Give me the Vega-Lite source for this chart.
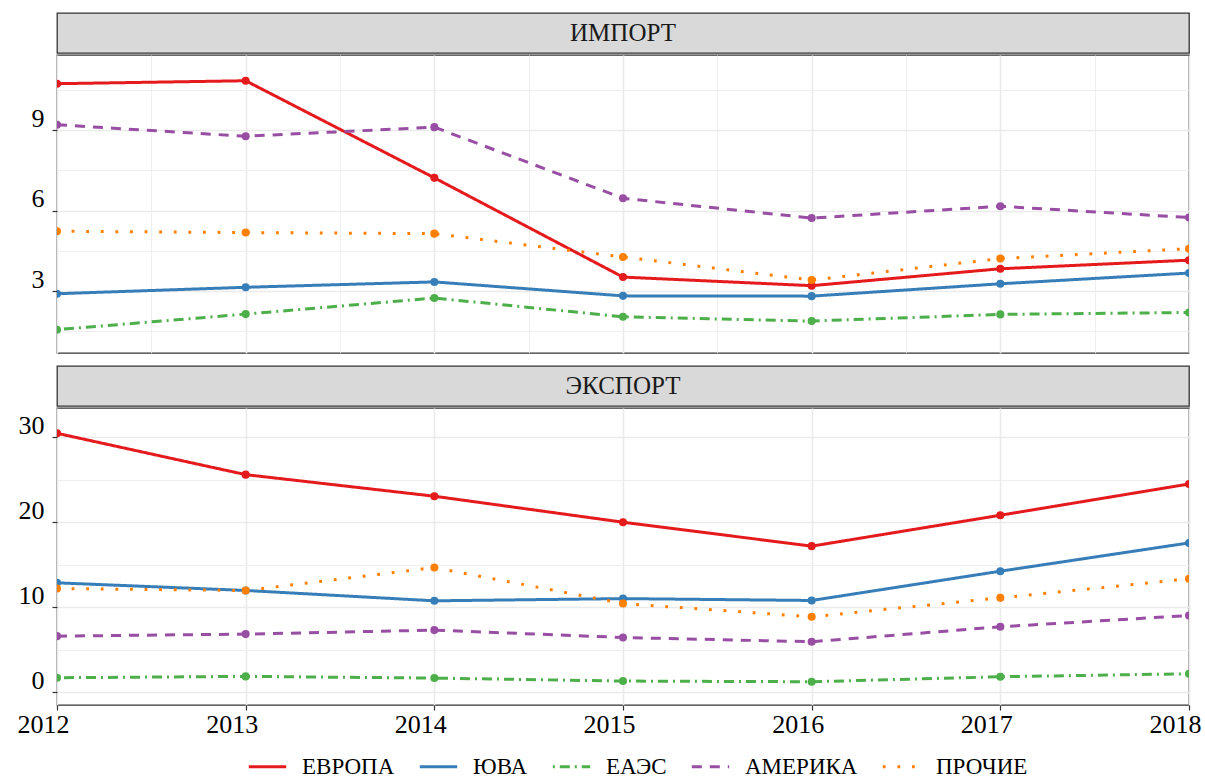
{
  "$schema": "https://vega.github.io/schema/vega-lite/v6.json",
  "padding": {"left": 5, "top": 12, "right": 5, "bottom": 2},
  "background": "white",
  "datasets": {
    "strips": [{"panel": "ИМПОРТ"}, {"panel": "ЭКСПОРТ"}],
    "series": [
      {"panel": "ИМПОРТ", "region": "ЕВРОПА", "year": 2012, "value": 10.73},
      {"panel": "ИМПОРТ", "region": "ЕВРОПА", "year": 2013, "value": 10.84},
      {"panel": "ИМПОРТ", "region": "ЕВРОПА", "year": 2014, "value": 7.22},
      {"panel": "ИМПОРТ", "region": "ЕВРОПА", "year": 2015, "value": 3.52},
      {"panel": "ИМПОРТ", "region": "ЕВРОПА", "year": 2016, "value": 3.2},
      {"panel": "ИМПОРТ", "region": "ЕВРОПА", "year": 2017, "value": 3.83},
      {"panel": "ИМПОРТ", "region": "ЕВРОПА", "year": 2018, "value": 4.15},
      {"panel": "ИМПОРТ", "region": "ЮВА", "year": 2012, "value": 2.9},
      {"panel": "ИМПОРТ", "region": "ЮВА", "year": 2013, "value": 3.14},
      {"panel": "ИМПОРТ", "region": "ЮВА", "year": 2014, "value": 3.34},
      {"panel": "ИМПОРТ", "region": "ЮВА", "year": 2015, "value": 2.82},
      {"panel": "ИМПОРТ", "region": "ЮВА", "year": 2016, "value": 2.81},
      {"panel": "ИМПОРТ", "region": "ЮВА", "year": 2017, "value": 3.27},
      {"panel": "ИМПОРТ", "region": "ЮВА", "year": 2018, "value": 3.67},
      {"panel": "ИМПОРТ", "region": "ЕАЭС", "year": 2012, "value": 1.56},
      {"panel": "ИМПОРТ", "region": "ЕАЭС", "year": 2013, "value": 2.14},
      {"panel": "ИМПОРТ", "region": "ЕАЭС", "year": 2014, "value": 2.74},
      {"panel": "ИМПОРТ", "region": "ЕАЭС", "year": 2015, "value": 2.04},
      {"panel": "ИМПОРТ", "region": "ЕАЭС", "year": 2016, "value": 1.88},
      {"panel": "ИМПОРТ", "region": "ЕАЭС", "year": 2017, "value": 2.13},
      {"panel": "ИМПОРТ", "region": "ЕАЭС", "year": 2018, "value": 2.2},
      {"panel": "ИМПОРТ", "region": "АМЕРИКА", "year": 2012, "value": 9.2},
      {"panel": "ИМПОРТ", "region": "АМЕРИКА", "year": 2013, "value": 8.77},
      {"panel": "ИМПОРТ", "region": "АМЕРИКА", "year": 2014, "value": 9.11},
      {"panel": "ИМПОРТ", "region": "АМЕРИКА", "year": 2015, "value": 6.46},
      {"panel": "ИМПОРТ", "region": "АМЕРИКА", "year": 2016, "value": 5.72},
      {"panel": "ИМПОРТ", "region": "АМЕРИКА", "year": 2017, "value": 6.16},
      {"panel": "ИМПОРТ", "region": "АМЕРИКА", "year": 2018, "value": 5.74},
      {"panel": "ИМПОРТ", "region": "ПРОЧИЕ", "year": 2012, "value": 5.23},
      {"panel": "ИМПОРТ", "region": "ПРОЧИЕ", "year": 2013, "value": 5.18},
      {"panel": "ИМПОРТ", "region": "ПРОЧИЕ", "year": 2014, "value": 5.14},
      {"panel": "ИМПОРТ", "region": "ПРОЧИЕ", "year": 2015, "value": 4.27},
      {"panel": "ИМПОРТ", "region": "ПРОЧИЕ", "year": 2016, "value": 3.41},
      {"panel": "ИМПОРТ", "region": "ПРОЧИЕ", "year": 2017, "value": 4.21},
      {"panel": "ИМПОРТ", "region": "ПРОЧИЕ", "year": 2018, "value": 4.58},
      {"panel": "ЭКСПОРТ", "region": "ЕВРОПА", "year": 2012, "value": 30.47},
      {"panel": "ЭКСПОРТ", "region": "ЕВРОПА", "year": 2013, "value": 25.6},
      {"panel": "ЭКСПОРТ", "region": "ЕВРОПА", "year": 2014, "value": 23.06},
      {"panel": "ЭКСПОРТ", "region": "ЕВРОПА", "year": 2015, "value": 20.0},
      {"panel": "ЭКСПОРТ", "region": "ЕВРОПА", "year": 2016, "value": 17.18},
      {"panel": "ЭКСПОРТ", "region": "ЕВРОПА", "year": 2017, "value": 20.82},
      {"panel": "ЭКСПОРТ", "region": "ЕВРОПА", "year": 2018, "value": 24.5},
      {"panel": "ЭКСПОРТ", "region": "ЮВА", "year": 2012, "value": 12.86},
      {"panel": "ЭКСПОРТ", "region": "ЮВА", "year": 2013, "value": 11.96},
      {"panel": "ЭКСПОРТ", "region": "ЮВА", "year": 2014, "value": 10.74},
      {"panel": "ЭКСПОРТ", "region": "ЮВА", "year": 2015, "value": 11.0},
      {"panel": "ЭКСПОРТ", "region": "ЮВА", "year": 2016, "value": 10.78},
      {"panel": "ЭКСПОРТ", "region": "ЮВА", "year": 2017, "value": 14.23},
      {"panel": "ЭКСПОРТ", "region": "ЮВА", "year": 2018, "value": 17.56},
      {"panel": "ЭКСПОРТ", "region": "ЕАЭС", "year": 2012, "value": 1.68},
      {"panel": "ЭКСПОРТ", "region": "ЕАЭС", "year": 2013, "value": 1.84},
      {"panel": "ЭКСПОРТ", "region": "ЕАЭС", "year": 2014, "value": 1.64},
      {"panel": "ЭКСПОРТ", "region": "ЕАЭС", "year": 2015, "value": 1.29},
      {"panel": "ЭКСПОРТ", "region": "ЕАЭС", "year": 2016, "value": 1.21},
      {"panel": "ЭКСПОРТ", "region": "ЕАЭС", "year": 2017, "value": 1.8},
      {"panel": "ЭКСПОРТ", "region": "ЕАЭС", "year": 2018, "value": 2.15},
      {"panel": "ЭКСПОРТ", "region": "АМЕРИКА", "year": 2012, "value": 6.58},
      {"panel": "ЭКСПОРТ", "region": "АМЕРИКА", "year": 2013, "value": 6.82},
      {"panel": "ЭКСПОРТ", "region": "АМЕРИКА", "year": 2014, "value": 7.29},
      {"panel": "ЭКСПОРТ", "region": "АМЕРИКА", "year": 2015, "value": 6.42},
      {"panel": "ЭКСПОРТ", "region": "АМЕРИКА", "year": 2016, "value": 5.92},
      {"panel": "ЭКСПОРТ", "region": "АМЕРИКА", "year": 2017, "value": 7.68},
      {"panel": "ЭКСПОРТ", "region": "АМЕРИКА", "year": 2018, "value": 9.01},
      {"panel": "ЭКСПОРТ", "region": "ПРОЧИЕ", "year": 2012, "value": 12.19},
      {"panel": "ЭКСПОРТ", "region": "ПРОЧИЕ", "year": 2013, "value": 11.95},
      {"panel": "ЭКСПОРТ", "region": "ПРОЧИЕ", "year": 2014, "value": 14.66},
      {"panel": "ЭКСПОРТ", "region": "ПРОЧИЕ", "year": 2015, "value": 10.42},
      {"panel": "ЭКСПОРТ", "region": "ПРОЧИЕ", "year": 2016, "value": 8.86},
      {"panel": "ЭКСПОРТ", "region": "ПРОЧИЕ", "year": 2017, "value": 11.09},
      {"panel": "ЭКСПОРТ", "region": "ПРОЧИЕ", "year": 2018, "value": 13.33}
    ]
  },
  "config": {
    "font": "Liberation Serif",
    "view": {"stroke": "#333333", "strokeWidth": 1.3},
    "axis": {
      "labelFont": "Liberation Serif",
      "labelFontSize": 26,
      "labelColor": "#000000",
      "tickColor": "#333333",
      "tickWidth": 1.2,
      "tickSize": 5,
      "domain": false,
      "gridColor": "#EBEBEB",
      "labelOverlap": false,
      "labelFlush": false,
      "title": null
    },
    "legend": {
      "orient": "none",
      "legendX": 190,
      "legendY": 733,
      "direction": "horizontal",
      "labelFont": "Liberation Serif",
      "labelFontSize": 23,
      "labelColor": "#000000",
      "symbolType": "stroke",
      "symbolSize": 1400,
      "symbolStrokeWidth": 2.6,
      "columnPadding": 18,
      "labelOffset": 14,
      "padding": 0,
      "labelLimit": 300
    }
  },
  "spacing": 11,
  "vconcat": [
    {
      "spacing": 0,
      "vconcat": [
        {
          "data": {"name": "strips"},
          "transform": [{"filter": "datum.panel === 'ИМПОРТ'"}],
          "width": 1132,
          "height": 40,
          "view": {"fill": "#D9D9D9", "stroke": "#333333", "strokeWidth": 1.3},
          "mark": {"type": "text", "fontSize": 25, "color": "#1A1A1A", "font": "Liberation Serif"},
          "encoding": {"text": {"field": "panel", "type": "nominal"}}
        },
        {
          "data": {"name": "series"},
          "transform": [{"filter": "datum.panel === 'ИМПОРТ'"}],
          "width": 1132,
          "height": 298,
          "encoding": {
            "x": {
              "field": "year", "type": "quantitative",
              "scale": {"domain": [2012, 2018], "nice": false, "zero": false},
              "axis": {
                "values": [2012, 2012.5, 2013, 2013.5, 2014, 2014.5, 2015, 2015.5, 2016, 2016.5, 2017, 2017.5, 2018],
                "labels": false, "ticks": false, "domain": false,
                "gridWidth": {"condition": {"test": "datum.value % 1 === 0", "value": 1.6}, "value": 0.8},
                "minExtent": 0, "maxExtent": 0
              }
            },
            "y": {
              "field": "value", "type": "quantitative",
              "scale": {"domain": [0.69, 11.8], "nice": false, "zero": false},
              "axis": {
                "values": [1.5, 3, 4.5, 6, 7.5, 9, 10.5],
                "labelExpr": "datum.value % 3 === 0 ? datum.label : ''",
                "tickOpacity": {"condition": {"test": "datum.value % 3 === 0", "value": 1}, "value": 0},
                "gridWidth": {"condition": {"test": "datum.value % 3 === 0", "value": 1.6}, "value": 0.8},
                "labelFont": "Liberation Serif",
                "labelPadding": 8,
                "labelBaseline": "alphabetic",
                "labelOffset": -4,
                "minExtent": 51, "maxExtent": 51
              }
            },
            "color": {
              "field": "region", "type": "nominal",
              "scale": {"domain": ["ЕВРОПА", "ЮВА", "ЕАЭС", "АМЕРИКА", "ПРОЧИЕ"], "range": ["#E41A1C", "#377EB8", "#4DAF4A", "#984EA3", "#FF7F00"]},
              "legend": {"title": null, "labelFont": "Liberation Serif", "labelFontSize": 23}
            }
          },
          "layer": [
            {
              "mark": {"type": "line", "clip": true},
              "encoding": {
                "strokeDash": {
                  "field": "region", "type": "nominal",
                  "scale": {"domain": ["ЕВРОПА", "ЮВА", "ЕАЭС", "АМЕРИКА", "ПРОЧИЕ"], "range": [[1, 0], [1, 0], [2, 5, 10, 5], [10, 8], [2.8, 11.8]]},
                  "legend": {"title": null, "labelFont": "Liberation Serif", "labelFontSize": 23}
                },
                "strokeWidth": {
                  "field": "region", "type": "nominal",
                  "scale": {"domain": ["ЕВРОПА", "ЮВА", "ЕАЭС", "АМЕРИКА", "ПРОЧИЕ"], "range": [3, 3, 1.8, 1.8, 3]},
                  "legend": null
                }
              }
            },
            {"mark": {"type": "point", "filled": true, "size": 65, "opacity": 1, "clip": true}}
          ]
        }
      ]
    },
    {
      "spacing": 0,
      "vconcat": [
        {
          "data": {"name": "strips"},
          "transform": [{"filter": "datum.panel === 'ЭКСПОРТ'"}],
          "width": 1132,
          "height": 40,
          "view": {"fill": "#D9D9D9", "stroke": "#333333", "strokeWidth": 1.3},
          "mark": {"type": "text", "fontSize": 25, "color": "#1A1A1A", "font": "Liberation Serif"},
          "encoding": {"text": {"field": "panel", "type": "nominal"}}
        },
        {
          "data": {"name": "series"},
          "transform": [{"filter": "datum.panel === 'ЭКСПОРТ'"}],
          "width": 1132,
          "height": 297,
          "encoding": {
            "x": {
              "field": "year", "type": "quantitative",
              "scale": {"domain": [2012, 2018], "nice": false, "zero": false},
              "axis": {
                "values": [2012, 2012.5, 2013, 2013.5, 2014, 2014.5, 2015, 2015.5, 2016, 2016.5, 2017, 2017.5, 2018],
                "format": "d",
                "labelExpr": "datum.value % 1 === 0 ? datum.label : ''",
                "tickOpacity": {"condition": {"test": "datum.value % 1 === 0", "value": 1}, "value": 0},
                "gridWidth": {"condition": {"test": "datum.value % 1 === 0", "value": 1.6}, "value": 0.8},
                "labelFont": "Liberation Serif",
                "labelBaseline": "alphabetic",
                "labelPadding": 22,
                "labelOffset": -14
              }
            },
            "y": {
              "field": "value", "type": "quantitative",
              "scale": {"domain": [-1.53, 33.45], "nice": false, "zero": false},
              "axis": {
                "values": [0, 5, 10, 15, 20, 25, 30],
                "labelExpr": "datum.value % 10 === 0 ? datum.label : ''",
                "tickOpacity": {"condition": {"test": "datum.value % 10 === 0", "value": 1}, "value": 0},
                "gridWidth": {"condition": {"test": "datum.value % 10 === 0", "value": 1.6}, "value": 0.8},
                "labelFont": "Liberation Serif",
                "labelPadding": 8,
                "labelBaseline": "alphabetic",
                "labelOffset": -4,
                "minExtent": 51, "maxExtent": 51
              }
            },
            "color": {
              "field": "region", "type": "nominal",
              "scale": {"domain": ["ЕВРОПА", "ЮВА", "ЕАЭС", "АМЕРИКА", "ПРОЧИЕ"], "range": ["#E41A1C", "#377EB8", "#4DAF4A", "#984EA3", "#FF7F00"]},
              "legend": {"title": null, "labelFont": "Liberation Serif", "labelFontSize": 23}
            }
          },
          "layer": [
            {
              "mark": {"type": "line", "clip": true},
              "encoding": {
                "strokeDash": {
                  "field": "region", "type": "nominal",
                  "scale": {"domain": ["ЕВРОПА", "ЮВА", "ЕАЭС", "АМЕРИКА", "ПРОЧИЕ"], "range": [[1, 0], [1, 0], [2, 5, 10, 5], [10, 8], [2.8, 11.8]]},
                  "legend": {"title": null, "labelFont": "Liberation Serif", "labelFontSize": 23}
                },
                "strokeWidth": {
                  "field": "region", "type": "nominal",
                  "scale": {"domain": ["ЕВРОПА", "ЮВА", "ЕАЭС", "АМЕРИКА", "ПРОЧИЕ"], "range": [3, 3, 1.8, 1.8, 3]},
                  "legend": null
                }
              }
            },
            {"mark": {"type": "point", "filled": true, "size": 65, "opacity": 1, "clip": true}}
          ]
        }
      ]
    }
  ]
}
